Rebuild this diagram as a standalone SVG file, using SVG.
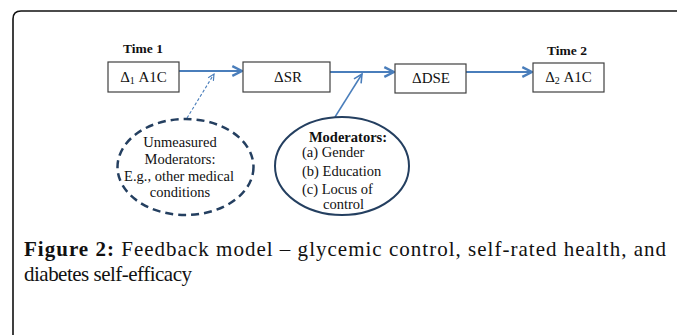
<svg xmlns="http://www.w3.org/2000/svg" width="677" height="335" viewBox="0 0 677 335">
  <style>
    .box { fill: #ffffff; stroke: #404040; stroke-width: 1.2; }
    .serif { font-family: "Liberation Serif", "Tinos", "Times New Roman", "DejaVu Serif", serif; fill: #111; }
    .lbl { font-size: 15px; }
    .oval { font-size: 14.5px; }
    .time { font-size: 13.5px; font-weight: bold; }
    .flow { stroke: #4a7ebb; stroke-width: 2.2; fill: none; marker-end: url(#head); }
    .cap { font-size: 21px; }
  </style>
  <defs>
    <marker id="head" viewBox="0 0 10 10" refX="9" refY="5" markerWidth="5.5" markerHeight="5.5" orient="auto" markerUnits="strokeWidth">
      <polyline points="1,1 9,5 1,9" fill="none" stroke="#4a7ebb" stroke-width="2"/>
    </marker>
    <marker id="headThin" viewBox="0 0 10 10" refX="9" refY="5" markerWidth="7" markerHeight="7" orient="auto" markerUnits="strokeWidth">
      <polyline points="1,1 9,5 1,9" fill="none" stroke="#4a7ebb" stroke-width="1.5"/>
    </marker>
  </defs>
  <rect width="677" height="335" fill="#ffffff"/>

  <!-- outer frame -->
  <path d="M13,335 V19 Q13,11 21,11 H677" fill="none" stroke="#111" stroke-width="1.6"/>

  <!-- time labels -->
  <text class="serif time" x="143" y="53" text-anchor="middle">Time 1</text>
  <text class="serif time" x="567" y="55" text-anchor="middle">Time 2</text>

  <!-- connectors -->
  <g id="connectors">
    <line class="flow" x1="179" y1="71" x2="242" y2="71"/>
    <line class="flow" x1="330" y1="72" x2="394" y2="72"/>
    <line class="flow" x1="466" y1="72" x2="532" y2="72"/>
    <line x1="187" y1="118" x2="214" y2="74" stroke="#4a7ebb" stroke-width="1.1" stroke-dasharray="3,2" fill="none" marker-end="url(#headThin)"/>
    <line x1="335" y1="117" x2="362" y2="74" stroke="#4a7ebb" stroke-width="1.5" fill="none" marker-end="url(#headThin)"/>
  </g>

  <!-- nodes -->
  <g id="a1c-time1">
    <rect class="box" x="108" y="62" width="71" height="30"/>
    <text class="serif lbl" x="143.5" y="82" text-anchor="middle">Δ<tspan font-size="10" dy="2">1</tspan><tspan dy="-2"> A1C</tspan></text>
  </g>
  <g id="sr">
    <rect class="box" x="243" y="62" width="87" height="30"/>
    <text class="serif lbl" x="288" y="82" text-anchor="middle">ΔSR</text>
  </g>
  <g id="dse">
    <rect class="box" x="395" y="64" width="71" height="29"/>
    <text class="serif lbl" x="431" y="83" text-anchor="middle">ΔDSE</text>
  </g>
  <g id="a1c-time2">
    <rect class="box" x="533" y="63" width="71" height="29"/>
    <text class="serif lbl" x="568.5" y="82" text-anchor="middle">Δ<tspan font-size="10" dy="2">2</tspan><tspan dy="-2"> A1C</tspan></text>
  </g>

  <g id="unmeasured-moderators">
    <ellipse cx="185.5" cy="167" rx="68" ry="48" fill="#ffffff" stroke="#243f60" stroke-width="2.5" stroke-dasharray="8,5"/>
    <text class="serif oval" x="180" y="147" text-anchor="middle">Unmeasured</text>
    <text class="serif oval" x="180" y="164" text-anchor="middle">Moderators:</text>
    <text class="serif oval" x="179" y="181" text-anchor="middle">E.g., other medical</text>
    <text class="serif oval" x="180" y="197" text-anchor="middle">conditions</text>
  </g>

  <g id="moderators">
    <ellipse cx="342" cy="166" rx="67" ry="49" fill="#ffffff" stroke="#243f60" stroke-width="2"/>
    <text class="serif oval" x="348" y="142" text-anchor="middle" font-weight="bold">Moderators:</text>
    <text class="serif oval" x="302" y="157">(a) Gender</text>
    <text class="serif oval" x="302" y="176">(b) Education</text>
    <text class="serif oval" x="302" y="194">(c) Locus of</text>
    <text class="serif oval" x="323" y="209">control</text>
  </g>

  <!-- caption -->
  <text class="serif cap" x="24" y="256" textLength="642" lengthAdjust="spacing"><tspan font-weight="bold">Figure 2:</tspan> Feedback model – glycemic control, self-rated health, and</text>
  <text class="serif cap" x="24" y="281" textLength="168" lengthAdjust="spacing">diabetes self-efficacy</text>
</svg>
